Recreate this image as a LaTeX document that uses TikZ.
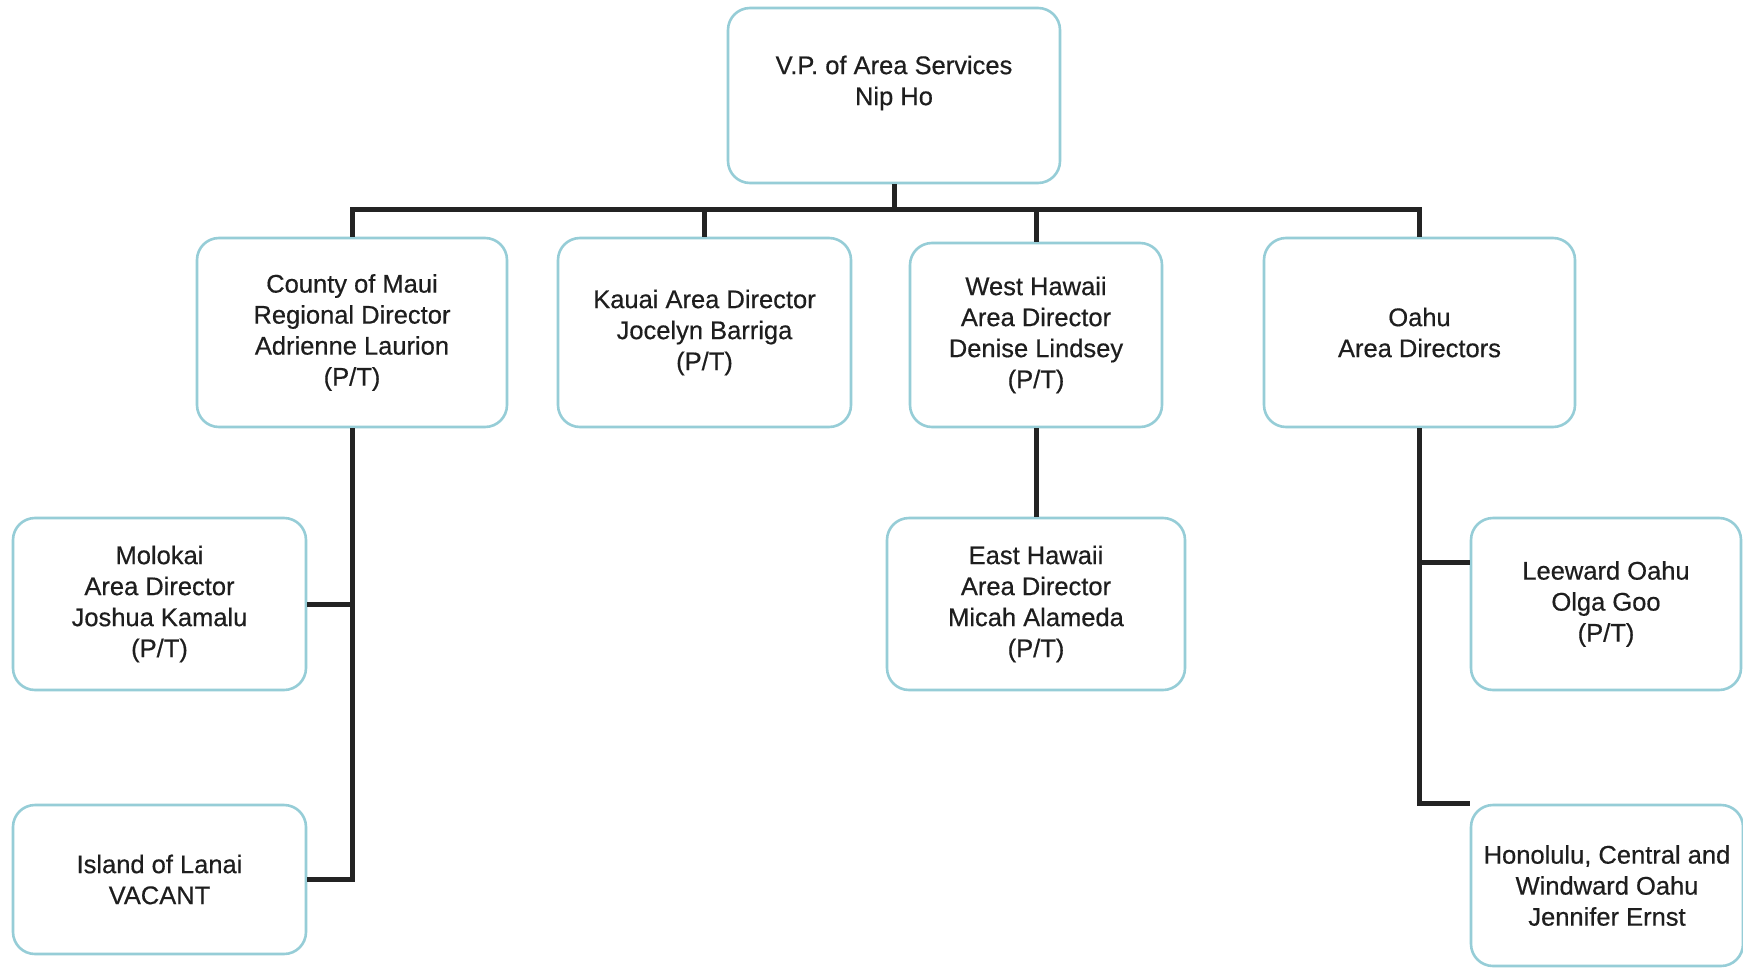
\documentclass[tikz,border=0pt]{standalone}
\usepackage{fontspec}
\setmainfont{Liberation Sans}
\newfontfamily\chartfont{Liberation Sans}[FakeBold=0.5]
\definecolor{boxblue}{RGB}{150,205,215}
\definecolor{linedark}{RGB}{35,35,35}
\definecolor{txt}{RGB}{30,30,30}
\begin{document}
\begin{tikzpicture}[x=1pt,y=-1pt,
  orgbox/.style={draw=boxblue, line width=2.6pt, rounded corners=22pt, fill=white,
    align=center, inner sep=0pt, text=txt,
    font=\chartfont\fontsize{25.5pt}{31pt}\selectfont,
    execute at begin node=\rule{0pt}{29pt}},
  conn/.style={draw=linedark, line width=5pt}]
\useasboundingbox (0,0) rectangle (1743,969);
\fill[white] (0,0) rectangle (1743,969);

% top box
\node[orgbox, minimum width=332pt, minimum height=175pt] (vp) at (894,95.5) {};
\node[align=center, text=txt, font=\chartfont\fontsize{25.5pt}{31pt}\selectfont, inner sep=0pt] (vptext)
  at ([yshift=12.5pt]vp.center) {V.P. of Area Services\\Nip Ho};

% second row
\node[orgbox, minimum width=310pt, minimum height=189pt] (maui) at (352,332.5)
  {County of Maui\\Regional Director\\Adrienne Laurion\\(P/T)};
\node[orgbox, minimum width=293pt, minimum height=189pt] (kauai) at (704.5,332.5)
  {Kauai Area Director\\Jocelyn Barriga\\(P/T)};
\node[orgbox, minimum width=252pt, minimum height=184pt] (westhawaii) at (1036,335)
  {West Hawaii\\Area Director\\Denise Lindsey\\(P/T)};
\node[orgbox, minimum width=311pt, minimum height=189pt] (oahu) at (1419.5,332.5)
  {Oahu\\Area Directors};

% third row
\node[orgbox, minimum width=293pt, minimum height=172pt] (molokai) at (159.5,604)
  {Molokai\\Area Director\\Joshua Kamalu\\(P/T)};
\node[orgbox, minimum width=293pt, minimum height=149pt] (lanai) at (159.5,879.5)
  {Island of Lanai\\VACANT};
\node[orgbox, minimum width=298pt, minimum height=172pt] (easthawaii) at (1036,604)
  {East Hawaii\\Area Director\\Micah Alameda\\(P/T)};
\node[orgbox, minimum width=270pt, minimum height=172pt] (leeward) at (1606,604)
  {Leeward Oahu\\Olga Goo\\(P/T)};
\node[orgbox, minimum width=272pt, minimum height=161pt] (honolulu) at (1607,885.5)
  {Honolulu, Central and\\Windward Oahu\\Jennifer Ernst};

% connectors
\coordinate (bus) at (0,209);
\draw[conn] (vp.south) -- (vp.south |- bus);
\draw[conn] (maui.north) |- (oahu.north |- bus) -- (oahu.north);
\draw[conn] (kauai.north) -- (kauai.north |- bus);
\draw[conn] (westhawaii.north) -- (westhawaii.north |- bus);

\draw[conn] (maui.south) |- (lanai.east);
\draw[conn] (molokai.east) -- (molokai.east -| maui.south);

\draw[conn] (westhawaii.south) -- (easthawaii.north);

\draw[conn] (oahu.south) |- (honolulu.north west);
\draw[conn] ([yshift=42pt]leeward.west) -- ([yshift=42pt]leeward.west -| oahu.south);
\end{tikzpicture}
\end{document}
